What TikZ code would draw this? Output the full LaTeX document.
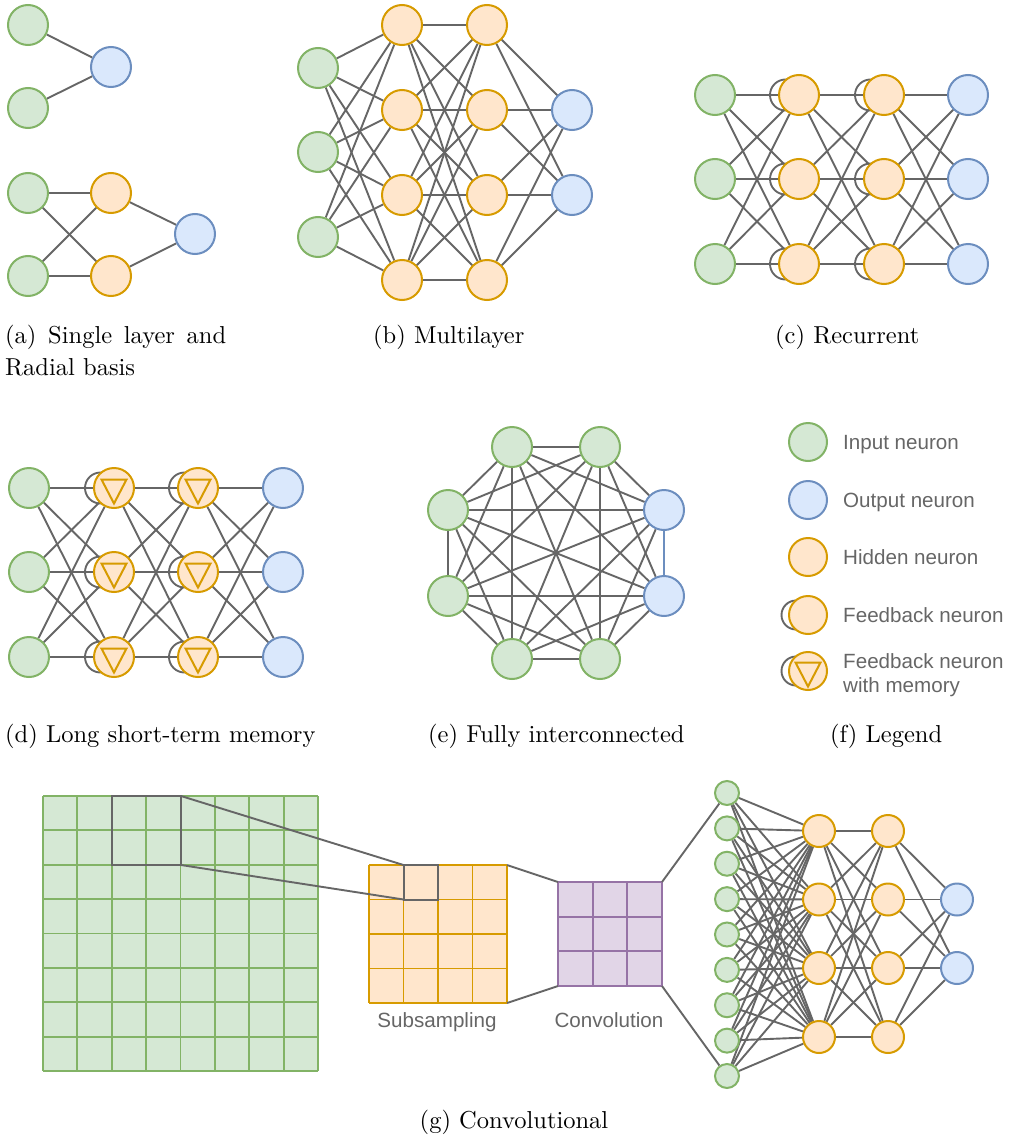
\documentclass[tikz,border=0pt]{standalone}
\usepackage{fontspec}
\newfontfamily\lgfont{Liberation Sans}
\newfontfamily\capfont{lmroman10-regular}[Extension=.otf]
\usetikzlibrary{backgrounds}
\definecolor{gF}{HTML}{D5E8D4}
\definecolor{gS}{HTML}{82B366}
\definecolor{bF}{HTML}{DAE8FC}
\definecolor{bS}{HTML}{6C8EBF}
\definecolor{oF}{HTML}{FFE6CC}
\definecolor{oS}{HTML}{D79B00}
\definecolor{pF}{HTML}{E1D5E7}
\definecolor{pS}{HTML}{9673A6}
\definecolor{eC}{HTML}{666666}
\definecolor{tC}{HTML}{666666}
\tikzset{
  neuron/.style={circle, inner sep=0pt, minimum size=40pt, line width=2pt},
  inp/.style={neuron, draw=gS, fill=gF},
  outp/.style={neuron, draw=bS, fill=bF},
  hid/.style={neuron, draw=oS, fill=oF},
  memcell/.style={hid, path picture={\draw[oS, line width=2pt]
      ([shift={(-12.5,-8.5)}]path picture bounding box.center) -- ++(25,0) -- ++(-12.5,24) -- cycle;}},
  link/.style={draw=eC, line width=1.9pt},
  gridline/.style={line width=1.9pt},
  captext/.style={inner sep=0pt, font=\capfont\fontsize{24.5}{32}\selectfont},
  lgtext/.style={inner sep=0pt, text=tC, font=\lgfont\fontsize{20.6}{24}\selectfont, align=left},
}
\begin{document}
\begin{tikzpicture}[x=1pt, y=-1pt]
\useasboundingbox (0,0) rectangle (1010,1140);

% ---------- (a) single layer and radial basis ----------
\node[inp]  (a1) at (28,25) {};
\node[inp]  (a2) at (28,108) {};
\node[outp] (a3) at (111,67) {};
\node[inp]  (ar1) at (28,193) {};
\node[inp]  (ar2) at (28,276) {};
\node[hid]  (arh1) at (111,193) {};
\node[hid]  (arh2) at (111,276) {};
\node[outp] (aro) at (195,234) {};
\begin{scope}[on background layer]
  \draw[link] (a1) -- (a3);
  \draw[link] (a2) -- (a3);
  \foreach \i in {1,2} \foreach \j in {1,2} \draw[link] (ar\i) -- (arh\j);
  \foreach \j in {1,2} \draw[link] (arh\j) -- (aro);
\end{scope}

% ---------- (b) multilayer ----------
\foreach \y [count=\k] in {68,152,237} \node[inp] (bi\k) at (318,\y) {};
\foreach \y [count=\k] in {25,110,195,280} {
  \node[hid] (bh\k) at (402,\y) {};
  \node[hid] (bg\k) at (487,\y) {};
}
\foreach \y [count=\k] in {110,195} \node[outp] (bo\k) at (572,\y) {};
\begin{scope}[on background layer]
  \foreach \i in {1,2,3} \foreach \j in {1,...,4} \draw[link] (bi\i) -- (bh\j);
  \foreach \i in {1,...,4} \foreach \j in {1,...,4} \draw[link] (bh\i) -- (bg\j);
  \foreach \i in {1,...,4} \foreach \j in {1,2} \draw[link] (bg\i) -- (bo\j);
\end{scope}

% ---------- (c) recurrent ----------
\foreach \y [count=\k] in {95,179,264} {
  \node[inp]  (ci\k) at (715,\y) {};
  \node[hid]  (ch\k) at (799,\y) {};
  \node[hid]  (cg\k) at (884,\y) {};
  \node[outp] (co\k) at (968,\y) {};
}
\begin{scope}[on background layer]
  \foreach \i in {1,2,3} \foreach \j in {1,2,3} {
    \draw[link] (ci\i) -- (ch\j);
    \draw[link] (ch\i) -- (cg\j);
    \draw[link] (cg\i) -- (co\j);
  }
  \foreach \k in {1,2,3} {
    \draw[link] ([xshift=-13.5pt]ch\k.center) circle[radius=15.5];
    \draw[link] ([xshift=-13.5pt]cg\k.center) circle[radius=15.5];
  }
\end{scope}

% ---------- (d) long short-term memory ----------
\foreach \y [count=\k] in {488,572,657} {
  \node[inp]     (di\k) at (29,\y) {};
  \node[memcell] (dh\k) at (114,\y) {};
  \node[memcell] (dg\k) at (198,\y) {};
  \node[outp]    (do\k) at (283,\y) {};
}
\begin{scope}[on background layer]
  \foreach \i in {1,2,3} \foreach \j in {1,2,3} {
    \draw[link] (di\i) -- (dh\j);
    \draw[link] (dh\i) -- (dg\j);
    \draw[link] (dg\i) -- (do\j);
  }
  \foreach \k in {1,2,3} {
    \draw[link] ([xshift=-13.5pt]dh\k.center) circle[radius=15.5];
    \draw[link] ([xshift=-13.5pt]dg\k.center) circle[radius=15.5];
  }
\end{scope}

% ---------- (e) fully interconnected ----------
\node[inp]  (e1) at (512,447) {};
\node[inp]  (e2) at (600,447) {};
\node[outp] (e3) at (664,510) {};
\node[outp] (e4) at (664,596) {};
\node[inp]  (e5) at (600,659) {};
\node[inp]  (e6) at (512,659) {};
\node[inp]  (e7) at (448,596) {};
\node[inp]  (e8) at (448,510) {};
\begin{scope}[on background layer]
  \foreach \i in {1,...,7} {
    \pgfmathtruncatemacro\nxt{\i+1}
    \foreach \j in {\nxt,...,8} {
      \ifnum\i\j=34\relax\else\draw[link] (e\i) -- (e\j);\fi
    }
  }
  \draw[link, draw=bS] (e3) -- (e4);
\end{scope}

% ---------- (f) legend ----------
\node[inp, minimum size=38pt]     (l1) at (808,442) {};
\node[outp, minimum size=38pt]    (l2) at (808,500) {};
\node[hid, minimum size=38pt]     (l3) at (808,557) {};
\node[hid, minimum size=38pt]     (l4) at (808,615) {};
\node[memcell, minimum size=38pt] (l5) at (808,671) {};
\begin{scope}[on background layer]
  \draw[link] ([xshift=-12pt]l4.center) circle[radius=14.5];
  \draw[link] ([xshift=-12pt]l5.center) circle[radius=14.5];
\end{scope}
\node[lgtext, anchor=base west] (t1) at (843,449.5) {Input neuron};
\node[lgtext, anchor=base west] (t2) at (843,507.5) {Output neuron};
\node[lgtext, anchor=base west] (t3) at (843,564.5) {Hidden neuron};
\node[lgtext, anchor=base west] (t4) at (843,622.5) {Feedback neuron};
\node[lgtext, anchor=base west] (t5) at (843,668.5) {Feedback neuron};
\node[lgtext, anchor=base west] (t6) at (843,692.5) {with memory};

% ---------- (g) convolutional ----------
% input image 8x8
\fill[gF] (43,796) rectangle (318,1071);
\foreach \k in {0,...,8} {
  \draw[gS, gridline] ({43+\k*34.375},796) -- ({43+\k*34.375},1071);
  \draw[gS, gridline] (43,{796+\k*34.375}) -- (318,{796+\k*34.375});
}
\draw[eC, line width=2pt] (112,796) rectangle (181,865);
% subsampled map 4x4
\fill[oF] (369,865) rectangle (507,1003);
\foreach \k in {0,...,4} {
  \draw[oS, gridline] ({369+\k*34.5},865) -- ({369+\k*34.5},1003);
  \draw[oS, gridline] (369,{865+\k*34.5}) -- (507,{865+\k*34.5});
}
\draw[eC, line width=2pt] (403.5,865) rectangle (438,899.5);
% convolution kernel 3x3
\fill[pF] (558,882) rectangle (662,986);
\foreach \k in {0,...,3} {
  \draw[pS, gridline] ({558+\k*34.667},882) -- ({558+\k*34.667},986);
  \draw[pS, gridline] (558,{882+\k*34.667}) -- (662,{882+\k*34.667});
}
\coordinate (gTR) at (181,796);
\coordinate (gBR) at (181,865);
\coordinate (oTL) at (403.5,865);
\coordinate (oBL) at (403.5,899.5);
\coordinate (oTR) at (507,865);
\coordinate (oBR) at (507,1003);
\coordinate (pTL) at (558,882);
\coordinate (pBL) at (558,986);
\coordinate (pTR) at (662,882);
\coordinate (pBR) at (662,986);
\draw[link] (gTR) -- (oTL);
\draw[link] (gBR) -- (oBL);
\draw[link] (oTR) -- (pTL);
\draw[link] (oBR) -- (pBL);
\node[lgtext, anchor=base] (sub) at (437,1027) {Subsampling};
\node[lgtext, anchor=base] (conv) at (609,1027) {Convolution};
% fully connected part
\foreach \k in {1,...,9} \node[inp, minimum size=24pt] (gi\k) at (727,{793+(\k-1)*35.375}) {};
\foreach \y [count=\k] in {831,899.5,968,1037} {
  \node[hid, minimum size=32pt] (gh\k) at (819,\y) {};
  \node[hid, minimum size=32pt] (gg\k) at (888,\y) {};
}
\node[outp, minimum size=32pt] (go1) at (957,899.5) {};
\node[outp, minimum size=32pt] (go2) at (957,968) {};
\begin{scope}[on background layer]
  \foreach \i in {1,...,9} \foreach \j in {1,...,4} \draw[link] (gi\i) -- (gh\j);
  \foreach \i in {1,...,4} \foreach \j in {1,...,4} \draw[link] (gh\i) -- (gg\j);
  \foreach \i in {1,...,4} \foreach \j in {1,2} \draw[link] (gg\i) -- (go\j);
\end{scope}
\draw[link] (pTR) -- (gi1);
\draw[link] (pBR) -- (gi9);

% ---------- captions ----------
\node[captext, anchor=base west] (capa) at (5,343) {\makebox[221pt][s]{(a) Single layer and}};
\node[captext, anchor=base west] (capa2) at (5,375) {Radial basis};
\node[captext, anchor=base west] (capb) at (373,343) {(b) Multilayer};
\node[captext, anchor=base west] (capc) at (775,343) {(c) Recurrent};
\node[captext, anchor=base west] (capd) at (5,742) {(d) Long short-term memory};
\node[captext, anchor=base west] (cape) at (428,742) {(e) Fully interconnected};
\node[captext, anchor=base west] (capf) at (830,742) {(f) Legend};
\node[captext, anchor=base] (capg) at (514,1128) {(g) Convolutional};
\end{tikzpicture}
\end{document}
